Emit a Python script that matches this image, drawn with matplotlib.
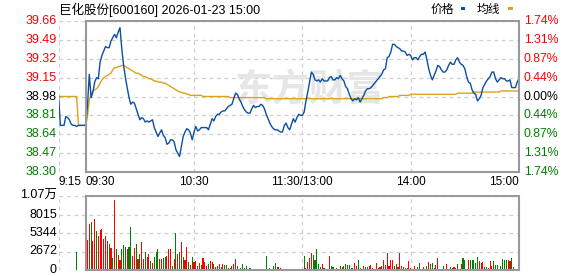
import matplotlib
matplotlib.use("Agg")
import matplotlib.pyplot as plt
import matplotlib.transforms as mtransforms
from matplotlib.patches import Rectangle

plt.rcParams["font.family"] = ["Liberation Sans", "Noto Sans CJK SC"]

TITLE = "巨化股份[600160] 2026-01-23 15:00"
PREV_CLOSE = 38.98

# minutes counted from 09:30 (11:30 and 13:00 share minute 120), pre-market starts at -15
pre_minutes = [-15, -14, -13, -12, -11, -10, -9, -8, -7, -6, -5, -4, -3, -2, -1]
pre_price = [38.98, 38.72, 38.72, 38.72, 38.80, 38.79, 38.77, 38.73, 38.72, 38.72,
             38.71, 38.72, 38.72, 38.72, 38.72]
pre_avg = [38.98, 38.98, 38.98, 38.98, 38.98, 38.98, 38.98, 38.98, 38.98, 38.98,
           38.98, 38.72, 38.72, 38.72, 38.72]
auction_minute = -5
auction_volume = 2570

price = [
    38.72, 38.90, 39.18, 38.97, 39.02, 39.11, 39.15, 39.14, 39.29, 39.35,
    39.39, 39.43, 39.42, 39.42, 39.48, 39.51, 39.54, 39.51, 39.56, 39.60,
    39.41, 39.26, 39.15, 39.06, 38.97, 38.91, 38.93, 38.92, 38.87, 38.82,
    38.77, 38.79, 38.78, 38.75, 38.76, 38.75, 38.76, 38.77, 38.70, 38.66,
    38.62, 38.65, 38.68, 38.63, 38.61, 38.55, 38.56, 38.59, 38.59, 38.57,
    38.50, 38.47, 38.44, 38.53, 38.62, 38.66, 38.69, 38.68, 38.65, 38.59,
    38.66, 38.71, 38.67, 38.68, 38.70, 38.70, 38.70, 38.70, 38.68, 38.73,
    38.78, 38.76, 38.80, 38.82, 38.82, 38.84, 38.85, 38.85, 38.87, 38.89,
    38.90, 38.91, 38.96, 39.01, 39.00, 38.96, 38.93, 38.89, 38.86, 38.84,
    38.83, 38.83, 38.87, 38.90, 38.88, 38.89, 38.89, 38.91, 38.90, 38.87,
    38.82, 38.78, 38.74, 38.71, 38.69, 38.68, 38.68, 38.67, 38.66, 38.66,
    38.72, 38.74, 38.70, 38.68, 38.73, 38.78, 38.75, 38.79, 38.82, 38.81,
    38.81, 38.84, 38.94, 39.02, 39.11, 39.20, 39.18, 39.13, 39.12, 39.13,
    39.11, 39.14, 39.12, 39.12, 39.12, 39.15, 39.16, 39.13, 39.13, 39.15,
    39.14, 39.17, 39.14, 39.12, 39.07, 39.05, 39.00, 38.96, 38.94, 38.96,
    38.95, 38.97, 38.93, 38.96, 38.99, 39.03, 39.05, 39.05, 39.06, 39.08,
    39.10, 39.12, 39.14, 39.16, 39.18, 39.22, 39.23, 39.33, 39.34, 39.38,
    39.45, 39.45, 39.43, 39.42, 39.41, 39.39, 39.39, 39.38, 39.35, 39.36,
    39.35, 39.31, 39.33, 39.33, 39.31, 39.34, 39.36, 39.36, 39.38, 39.31,
    39.23, 39.17, 39.13, 39.17, 39.21, 39.26, 39.25, 39.22, 39.20, 39.20,
    39.22, 39.26, 39.29, 39.27, 39.27, 39.31, 39.33, 39.29, 39.27, 39.26,
    39.23, 39.16, 39.11, 39.10, 39.04, 39.01, 39.00, 38.94, 38.96, 38.99,
    39.06, 39.09, 39.12, 39.14, 39.16, 39.20, 39.20, 39.14, 39.11, 39.13,
    39.15, 39.14, 39.14, 39.12, 39.12, 39.13, 39.06, 39.06, 39.06, 39.11,
    39.14,
]

avg_price = [
    38.72, 38.80, 38.95, 39.00, 39.03, 39.04, 39.05, 39.07, 39.10, 39.13,
    39.15, 39.16, 39.17, 39.18, 39.19, 39.22, 39.24, 39.24, 39.25, 39.25,
    39.26, 39.26, 39.25, 39.24, 39.23, 39.22, 39.21, 39.20, 39.19, 39.19,
    39.18, 39.17, 39.16, 39.16, 39.15, 39.14, 39.14, 39.13, 39.12, 39.12,
    39.11, 39.11, 39.11, 39.10, 39.10, 39.09, 39.08, 39.07, 39.06, 39.05,
    39.04, 39.03, 39.02, 39.02, 39.01, 39.01, 39.00, 39.00, 38.99, 38.99,
    38.99, 38.99, 38.99, 38.99, 38.99, 38.98, 38.98, 38.98, 38.98, 38.98,
    38.98, 38.98, 38.98, 38.98, 38.98, 38.98, 38.98, 38.98, 38.98, 38.98,
    38.97, 38.97, 38.97, 38.97, 38.97, 38.97, 38.97, 38.97, 38.97, 38.97,
    38.97, 38.97, 38.97, 38.97, 38.97, 38.97, 38.97, 38.97, 38.97, 38.97,
    38.96, 38.96, 38.96, 38.96, 38.96, 38.96, 38.96, 38.96, 38.96, 38.96,
    38.96, 38.96, 38.96, 38.96, 38.96, 38.96, 38.96, 38.96, 38.96, 38.96,
    38.96, 38.96, 38.96, 38.96, 38.96, 38.96, 38.96, 38.96, 38.96, 38.96,
    38.96, 38.96, 38.96, 38.96, 38.96, 38.96, 38.96, 38.96, 38.96, 38.96,
    38.96, 38.96, 38.96, 38.96, 38.96, 38.96, 38.96, 38.96, 38.96, 38.96,
    38.96, 38.96, 38.96, 38.96, 38.96, 38.96, 38.96, 38.96, 38.96, 38.96,
    38.96, 38.96, 38.96, 38.96, 38.96, 38.97, 38.97, 38.97, 38.98, 38.98,
    38.98, 38.98, 38.98, 38.98, 38.99, 38.99, 38.99, 38.99, 38.99, 38.99,
    39.00, 39.00, 39.00, 39.00, 39.00, 39.00, 39.00, 39.00, 39.00, 39.00,
    39.00, 39.00, 39.00, 39.00, 39.00, 39.00, 39.00, 39.00, 39.00, 39.00,
    39.00, 39.00, 39.00, 39.00, 39.00, 39.00, 39.01, 39.01, 39.01, 39.01,
    39.01, 39.01, 39.01, 39.01, 39.01, 39.02, 39.02, 39.02, 39.02, 39.02,
    39.02, 39.02, 39.02, 39.02, 39.02, 39.02, 39.02, 39.02, 39.02, 39.02,
    39.03, 39.03, 39.03, 39.03, 39.03, 39.03, 39.03, 39.03, 39.03, 39.03,
    39.03,
]

# per-minute volume (hands) from 09:31 to 15:00, colour: 1 = up (red), 0 = down (green)
volume = [
    4310, 6680, 6980, 4160, 7430, 5640, 4900, 5790, 5940, 4460,
    4900, 4160, 3710, 3120, 1780, 10100, 2970, 2230, 1490, 2970,
    3560, 3270, 2970, 3270, 6240, 2080, 3120, 3710, 1630, 2380,
    4010, 1630, 2670, 1930, 2380, 1340, 1040, 1930, 2670, 2970,
    1630, 1630, 1780, 1930, 2080, 2970, 2970, 590, 1630, 5350,
    2380, 2670, 4010, 1930, 1490, 3270, 1190, 740, 1930, 1190,
    1340, 590, 1040, 740, 1780, 1190, 590, 890, 1340, 1190,
    890, 450, 590, 890, 450, 890, 740, 740, 300, 300,
    590, 890, 1630, 590, 150, 300, 890, 300, 590, 150,
    300, 150, 150, 150, 150, 150, 150, 150, 150, 2080,
    150, 300, 150, 590, 1040, 450, 450, 300, 150, 150,
    150, 150, 150, 150, 150, 150, 150, 150, 150, 150,
    2080, 300, 1190, 1780, 2520, 2230, 1490, 2970, 890, 450,
    890, 300, 150, 150, 2080, 590, 450, 150, 300, 150,
    590, 450, 590, 890, 740, 740, 300, 300, 1040, 590,
    1490, 300, 150, 590, 450, 450, 590, 740, 300, 150,
    1040, 300, 450, 590, 1490, 740, 2520, 590, 1490, 1490,
    590, 890, 450, 2520, 590, 450, 300, 300, 1340, 300,
    150, 590, 150, 450, 1040, 150, 450, 150, 590, 1190,
    890, 1040, 300, 740, 1780, 150, 150, 590, 150, 890,
    150, 450, 300, 450, 300, 890, 150, 890, 1780, 1490,
    150, 1490, 1490, 1490, 1490, 1040, 1930, 1340, 1040, 1190,
    450, 450, 300, 1340, 590, 1340, 740, 740, 150, 590,
    1630, 1490, 1490, 1490, 1340, 1780, 450, 150, 150, 5350,
]
vol_up = [
    1, 1, 0, 1, 1, 0, 1, 1, 1, 1,
    1, 1, 0, 1, 0, 1, 0, 1, 1, 0,
    0, 0, 1, 0, 0, 1, 1, 0, 1, 0,
    1, 1, 0, 1, 1, 0, 1, 0, 0, 0,
    1, 1, 0, 0, 1, 1, 1, 0, 1, 0,
    1, 0, 1, 0, 1, 1, 0, 1, 0, 1,
    1, 0, 1, 0, 1, 1, 1, 0, 1, 1,
    0, 1, 1, 1, 0, 1, 0, 0, 1, 0,
    1, 1, 1, 0, 0, 0, 0, 0, 0, 0,
    0, 0, 1, 0, 1, 0, 1, 0, 0, 0,
    1, 0, 0, 0, 0, 0, 1, 1, 1, 1,
    0, 0, 1, 0, 1, 0, 1, 1, 0, 1,
    0, 1, 1, 1, 1, 0, 0, 0, 0, 1,
    1, 0, 0, 1, 1, 0, 0, 1, 1, 0,
    0, 1, 0, 0, 0, 0, 0, 0, 1, 1,
    0, 0, 1, 1, 0, 0, 1, 1, 0, 1,
    1, 0, 1, 1, 1, 1, 1, 1, 1, 1,
    0, 1, 0, 1, 1, 0, 1, 0, 1, 0,
    1, 1, 0, 0, 0, 1, 1, 0, 0, 1,
    0, 0, 1, 1, 1, 0, 0, 0, 1, 1,
    0, 0, 1, 1, 1, 0, 0, 1, 0, 0,
    0, 1, 0, 0, 0, 0, 0, 1, 1, 1,
    0, 0, 1, 1, 1, 0, 0, 0, 1, 0,
    0, 0, 0, 1, 1, 0, 1, 1, 0, 1,
]

price_ticks = [38.30, 38.47, 38.64, 38.81, 38.98, 39.15, 39.32, 39.49, 39.66]
pct_labels = ["1.74%", "1.31%", "0.87%", "0.44%", "0.00%", "0.44%", "0.87%", "1.31%", "1.74%"]
vol_ticks = [0, 2672, 5344, 8015, 10688]
vol_labels = ["0", "2672", "5344", "8015", "1.07万"]
time_ticks = [-15, 0, 60, 120, 180, 240]
time_labels = ["9:15", "09:30", "10:30", "11:30/13:00", "14:00", "15:00"]

BLUE = "#0b4fa2"
ORANGE = "#dca21c"
RED = "#ff0000"
GREEN = "#008000"
FRAME = "#999999"
GRID = "#cfcfcf"

W, H = 578, 276
fig = plt.figure(figsize=(W / 100, H / 100), dpi=100)
fig.patch.set_facecolor("white")


def px_axes(x0, y0, x1, y1):
    return fig.add_axes([x0 / W, 1 - y1 / H, (x1 - x0) / W, (y1 - y0) / H])


ax = px_axes(58.6, 21, 519, 172)
axv = px_axes(58.6, 196, 519, 270)

for a in (ax, axv):
    a.set_xlim(-15, 240)
    for s in a.spines.values():
        s.set_visible(False)
    a.set_xticks([])
    a.set_yticks([])
    a.set_facecolor("none")

ax.set_ylim(price_ticks[0], price_ticks[-1])
axv.set_ylim(vol_ticks[0], vol_ticks[-1])


def draw_grid(a, levels):
    for y in levels:
        a.axhline(y, color=GRID, lw=0.9, ls=(0, (3, 3)), zorder=0)
    for x in (-15, 60, 120, 180):
        a.axvline(x, color=GRID, lw=0.9, ls=(0, (3, 3)), zorder=0)
    lo, hi = levels[0], levels[-1]
    a.plot([0, 240, 240, 0, 0], [lo, lo, hi, hi, lo], color=FRAME, lw=1.5,
           clip_on=False, zorder=6, solid_joinstyle="miter")


draw_grid(ax, price_ticks)
draw_grid(axv, vol_ticks)

# watermark
ax.text(124, 39.03, "东方财富", fontsize=27, fontweight="bold", color="#e6e6e6",
        ha="center", va="center", zorder=1)

minutes = list(range(0, 241))
ax.plot(pre_minutes + minutes, pre_avg + avg_price, color=ORANGE, lw=1.0, zorder=3)
ax.plot(pre_minutes + minutes, pre_price + price, color=BLUE, lw=1.0, zorder=4)

bar_minutes = list(range(1, 241))
bar_colors = [RED if u else GREEN for u in vol_up]
axv.bar(bar_minutes, volume, width=0.6, color=bar_colors, linewidth=0, zorder=3)
axv.bar([auction_minute], [auction_volume], width=0.6, color=GREEN, linewidth=0, zorder=3)

# axis labels
left_tr = mtransforms.blended_transform_factory(fig.transFigure, ax.transData)
for y, pct in zip(price_ticks, pct_labels):
    if y > PREV_CLOSE + 1e-6:
        c = RED
    elif y < PREV_CLOSE - 1e-6:
        c = GREEN
    else:
        c = "black"
    fig.text(56.5 / W, y, f"{y:.2f}", transform=left_tr, ha="right", va="center",
             fontsize=9, color=c)
    fig.text(524 / W, y, pct, transform=left_tr, ha="left", va="center",
             fontsize=8.8, color=c)

vol_tr = mtransforms.blended_transform_factory(fig.transFigure, axv.transData)
for y, lab in zip(vol_ticks, vol_labels):
    fig.text(57 / W, y, lab, transform=vol_tr, ha="right", va="center",
             fontsize=9, color="black")

time_tr = mtransforms.blended_transform_factory(ax.transData, fig.transFigure)
for t, lab in zip(time_ticks, time_labels):
    if t == -15:
        ha = "left"
    elif t == 0:
        ha = "left"
    elif t == 240:
        ha = "right"
    else:
        ha = "center"
    fig.text(t, 1 - 182 / H, lab, transform=time_tr, ha=ha, va="center",
             fontsize=8.5, color="black")

# title and legend
fig.text(59 / W, 1 - 9.5 / H, TITLE, ha="left", va="center", fontsize=9, color="black")
fig.text(431 / W, 1 - 9.5 / H, "价格", ha="left", va="center", fontsize=8.5, color="black")
fig.patches.append(Rectangle((461 / W, 1 - 10 / H), 4 / W, 3 / H, transform=fig.transFigure,
                             facecolor=BLUE, edgecolor="none"))
fig.text(477 / W, 1 - 9.5 / H, "均线", ha="left", va="center", fontsize=8.5, color="black")
fig.patches.append(Rectangle((508 / W, 1 - 10 / H), 5 / W, 3 / H, transform=fig.transFigure,
                             facecolor=ORANGE, edgecolor="none"))

fig.savefig("out.png", dpi=100, facecolor="white")
